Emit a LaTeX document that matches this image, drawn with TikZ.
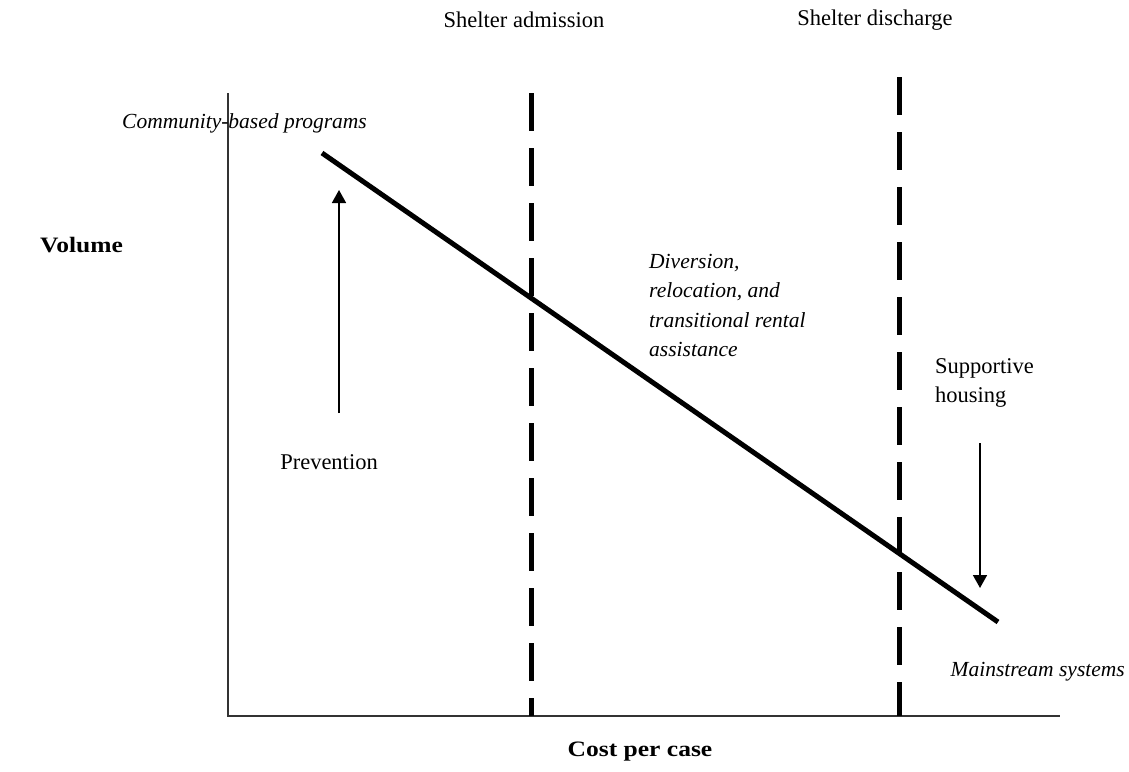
\documentclass[tikz,border=0pt]{standalone}
\usepackage{fontspec}
\setmainfont{Liberation Serif}
\usetikzlibrary{arrows.meta}
\newcommand{\widebold}[1]{\scalebox{1.16}[1]{\bfseries #1}}
\begin{document}
\begin{tikzpicture}[x=1pt,y=-1pt,
  lbl/.style={inner sep=0pt,font=\fontsize{22.5}{29.5}\selectfont},
  ilbl/.style={inner sep=0pt,font=\fontsize{21.5}{29.5}\selectfont\itshape},
  blbl/.style={inner sep=0pt,font=\fontsize{22}{29}\selectfont},
  axis/.style={line width=1.2pt,draw=black!80},
  divider/.style={line width=5pt,dash pattern=on 38pt off 17pt},
  trend/.style={line width=5pt},
  arr/.style={line width=1.6pt,-{Triangle[length=13pt,width=14pt]}}]
\useasboundingbox (0,0) rectangle (1129,771);
% axes
\coordinate (ytop) at (228,93);
\coordinate (orig) at (228,716);
\coordinate (xend) at (1060,716);
\draw[axis] (ytop) -- (orig) -- (xend);
% dividers
\coordinate (d1t) at (531,93);
\coordinate (d1b) at (531,716);
\coordinate (d2t) at (899,77);
\coordinate (d2b) at (899,716);
\draw[divider] (d1t) -- (d1b);
\draw[divider] (d2t) -- (d2b);
% trend line
\coordinate (ts) at (322,153);
\coordinate (te) at (998,622);
\draw[trend] (ts) -- (te);
% arrows
\coordinate (p1) at (339,413);
\coordinate (p2) at (339,190);
\draw[arr] (p1) -- (p2);
\coordinate (s1) at (980,443);
\coordinate (s2) at (980,588);
\draw[arr] (s1) -- (s2);
% labels
\node[lbl] (adm) at (524,20) {Shelter admission};
\node[lbl] (dis) at (875,20) {Shelter discharge};
\node[ilbl,anchor=west] (comm) at (122,123) {Community-based programs};
\node[blbl,anchor=west] (vol) at (40,245) {\widebold{Volume}};
\node[ilbl,anchor=north west,align=left] (div) at (649,254) {Diversion,\\relocation, and\\transitional rental\\assistance};
\node[lbl] (prev) at (329,462) {Prevention};
\node[lbl,anchor=north west,align=left] (sup) at (935,358) {Supportive\\housing};
\node[ilbl,anchor=east] (main) at (1125,672) {Mainstream systems};
\node[blbl] (cost) at (640,752) {\widebold{Cost per case}};
\end{tikzpicture}
\end{document}
